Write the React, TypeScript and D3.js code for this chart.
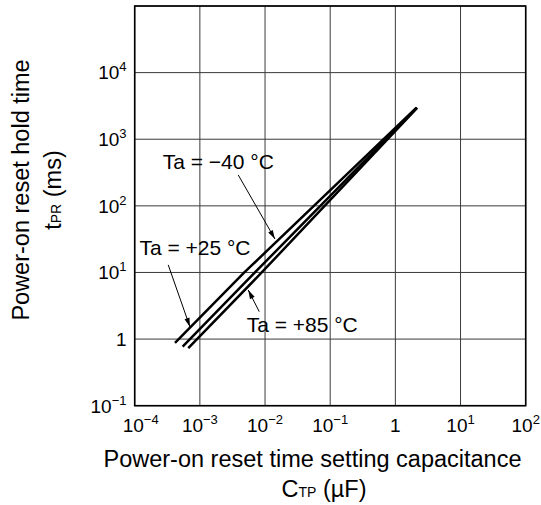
import React, { useEffect } from 'react';
import * as d3 from 'd3';

// decade grid / tick positions
const xDecades = [1e-4, 1e-3, 1e-2, 1e-1, 1, 1e1, 1e2];
const yDecades = [1e-1, 1, 1e1, 1e2, 1e3, 1e4, 1e5];
const xTickLabels = [
  { value: 1e-4, base: '10', exp: '−4' },
  { value: 1e-3, base: '10', exp: '−3' },
  { value: 1e-2, base: '10', exp: '−2' },
  { value: 1e-1, base: '10', exp: '−1' },
  { value: 1, base: '1', exp: '' },
  { value: 1e1, base: '10', exp: '1' },
  { value: 1e2, base: '10', exp: '2' },
];
const yTickLabels = [
  { value: 1e-1, base: '10', exp: '−1' },
  { value: 1, base: '1', exp: '' },
  { value: 1e1, base: '10', exp: '1' },
  { value: 1e2, base: '10', exp: '2' },
  { value: 1e3, base: '10', exp: '3' },
  { value: 1e4, base: '10', exp: '4' },
];

// curves: capacitance (uF) vs hold time (ms), straight on log-log
const capM40 = [4.15e-4, 4.81e-3, 2.11];
const timeM40 = [0.88, 10, 2980];
const capP25 = [5.44e-4, 7.0e-3, 2.14];
const timeP25 = [0.77, 10, 2980];
const capP85 = [6.64e-4, 8.9e-3, 2.16];
const timeP85 = [0.73, 10, 2960];

const series = [
  { name: 'Ta = −40 °C', cap: capM40, time: timeM40 },
  { name: 'Ta = +25 °C', cap: capP25, time: timeP25 },
  { name: 'Ta = +85 °C', cap: capP85, time: timeP85 },
];

// callouts, in data coordinates
const annotations = [
  { text: 'Ta = −40 °C', at: [2.69e-4, 355], from: [3.88e-3, 291], to: [0.0142, 31.8] },
  { text: 'Ta = +25 °C', at: [1.18e-4, 18.3], from: [3.27e-4, 13.0], to: [7.05e-4, 1.52] },
  { text: 'Ta = +85 °C', at: [5.22e-3, 1.29], from: [8.15e-3, 2.58], to: [5.52e-3, 5.46] },
];

const FONT = '"Liberation Sans", Arial, Helvetica, sans-serif';

export default function App() {
  useEffect(() => {
    document.body.style.margin = '0';
  }, []);

  const width = 541;
  const height = 505;
  const x = d3.scaleLog().domain([1e-4, 1e2]).range([134.7, 525.7]);
  const y = d3.scaleLog().domain([1e-1, 1e5]).range([405.7, 6]);

  const line = d3
    .line<[number, number]>()
    .x(d => x(d[0]))
    .y(d => y(d[1]));

  const arrowHead = (fx: number, fy: number, tx: number, ty: number) => {
    const ang = Math.atan2(ty - fy, tx - fx);
    const len = 9;
    const hw = 2.6;
    const bx = tx - len * Math.cos(ang);
    const by = ty - len * Math.sin(ang);
    const px = -Math.sin(ang) * hw;
    const py = Math.cos(ang) * hw;
    return `M${tx},${ty}L${bx + px},${by + py}L${bx - px},${by - py}Z`;
  };

  return (
    <svg width={width} height={height} style={{ display: 'block', background: '#fff' }} fontFamily={FONT}>
      {/* grid */}
      <g stroke="#3a3a3a" strokeWidth={1}>
        {xDecades.map(d => (
          <line key={'gx' + d} x1={x(d)} x2={x(d)} y1={y(1e5)} y2={y(1e-1)} />
        ))}
        {yDecades.map(d => (
          <line key={'gy' + d} x1={x(1e-4)} x2={x(1e2)} y1={y(d)} y2={y(d)} />
        ))}
      </g>
      <rect
        x={x(1e-4)}
        y={y(1e5)}
        width={x(1e2) - x(1e-4)}
        height={y(1e-1) - y(1e5)}
        fill="none"
        stroke="#000"
        strokeWidth={1.6}
      />

      {/* curves */}
      {series.map(s => (
        <path
          key={s.name}
          d={line(s.cap.map((c, i) => [c, s.time[i]] as [number, number])) || ''}
          fill="none"
          stroke="#000"
          strokeWidth={2.5}
          strokeLinejoin="round"
        />
      ))}

      {/* callouts */}
      {annotations.map(a => {
        const fx = x(a.from[0]);
        const fy = y(a.from[1]);
        const tx = x(a.to[0]);
        const ty = y(a.to[1]);
        return (
          <g key={a.text}>
            <line x1={fx} y1={fy} x2={tx} y2={ty} stroke="#000" strokeWidth={1} />
            <path d={arrowHead(fx, fy, tx, ty)} fill="#000" />
            <text x={x(a.at[0])} y={y(a.at[1])} fontSize={21} fill="#000">
              {a.text}
            </text>
          </g>
        );
      })}

      {/* x tick labels */}
      {xTickLabels.map((t, i) => (
        <text
          key={'xt' + t.value}
          x={x(t.value) + (i === 0 ? 6 : 0)}
          y={431.7}
          fontSize={19}
          textAnchor="middle"
          fill="#000"
        >
          {t.base}
          {t.exp && (
            <tspan fontSize={13} dy={-8}>
              {t.exp}
            </tspan>
          )}
        </text>
      ))}

      {/* y tick labels */}
      {yTickLabels.map(t => (
        <text key={'yt' + t.value} x={126.5} y={y(t.value) + 6.8} fontSize={19} textAnchor="end" fill="#000">
          {t.base}
          {t.exp && (
            <tspan fontSize={13} dy={-8}>
              {t.exp}
            </tspan>
          )}
        </text>
      ))}

      {/* x title */}
      <text x={312.5} y={466.7} fontSize={23.5} textAnchor="middle" fill="#000">
        Power-on reset time setting capacitance
      </text>
      <text x={324} y={496.7} fontSize={23.5} textAnchor="middle" fill="#000">
        C<tspan fontSize={14}>TP</tspan> (µF)
      </text>

      {/* y title */}
      <g transform="translate(0,190) rotate(-90)">
        <text x={0} y={29} fontSize={23.5} textAnchor="middle" fill="#000">
          Power-on reset hold time
        </text>
        <text x={0} y={61} fontSize={23.5} textAnchor="middle" fill="#000">
          t<tspan fontSize={14}>PR</tspan> (ms)
        </text>
      </g>
    </svg>
  );
}
